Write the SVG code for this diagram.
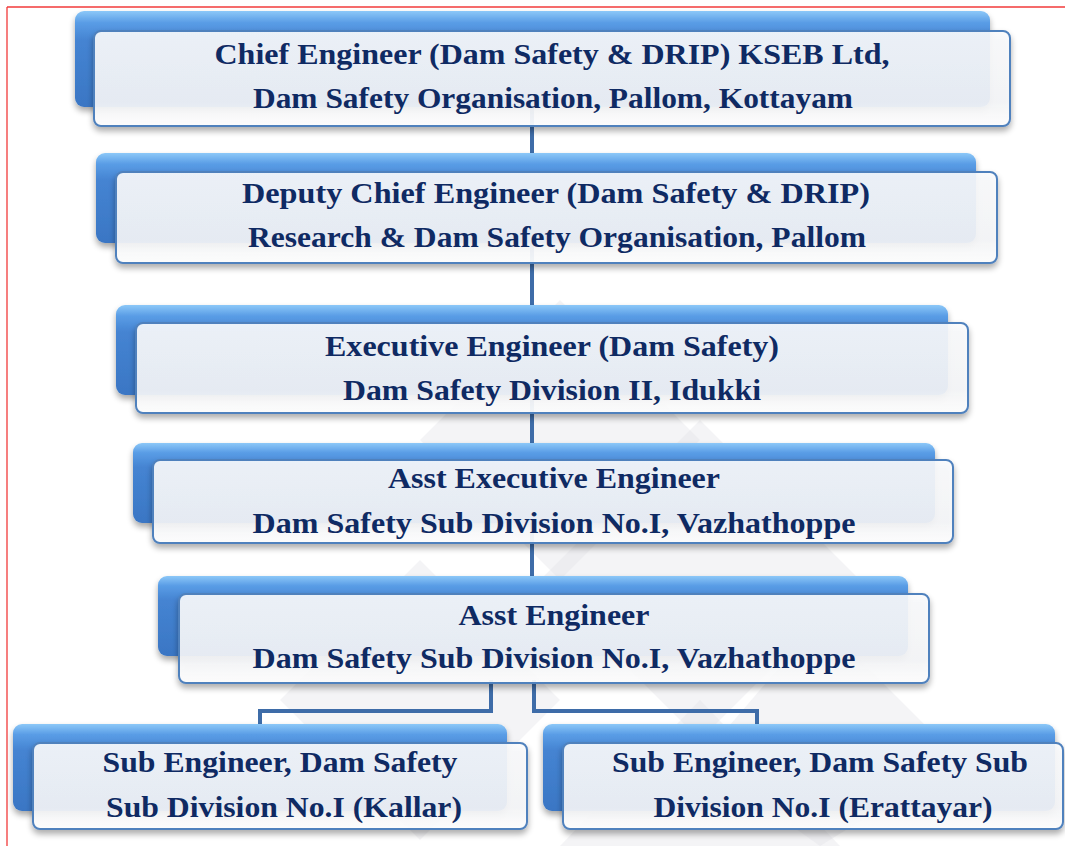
<svg xmlns="http://www.w3.org/2000/svg" width="1065" height="846" viewBox="0 0 1065 846">
  <style>
    .back { fill: url(#blueFace); filter: url(#shadow); }
    .front { fill: url(#glass); stroke: #4f81bd; stroke-width: 2; filter: url(#shadow); }
    .label { font-family: "Liberation Serif", "Times New Roman", serif; font-weight: bold; font-size: 29px; fill: #0f2a63; text-anchor: middle; }
    .link { fill: none; stroke: #3e6ca8; stroke-width: 4; }
    .frame { stroke: #f23a3a; stroke-width: 1.3; }
    .mark { fill: #dfe0e6; opacity: 0.35; }
  </style>
  <defs>
    <linearGradient id="blueFace" x1="0" y1="0" x2="0" y2="1">
      <stop offset="0" stop-color="#8cc8f8"/>
      <stop offset="0.12" stop-color="#5a9de6"/>
      <stop offset="0.3" stop-color="#4584d2"/>
      <stop offset="1" stop-color="#3a76c4"/>
    </linearGradient>
    <linearGradient id="glass" x1="0" y1="0" x2="0" y2="1">
      <stop offset="0" stop-color="#fbfcfe" stop-opacity="0.9"/>
      <stop offset="0.75" stop-color="#f6f7f9" stop-opacity="0.9"/>
      <stop offset="1" stop-color="#ffffff" stop-opacity="0.92"/>
    </linearGradient>
    <filter id="shadow" x="-5%" y="-20%" width="110%" height="150%">
      <feGaussianBlur in="SourceAlpha" stdDeviation="3"/>
      <feOffset dx="0" dy="4" result="b"/>
      <feComponentTransfer><feFuncA type="linear" slope="0.35"/></feComponentTransfer>
      <feMerge><feMergeNode/><feMergeNode in="SourceGraphic"/></feMerge>
    </filter>
  </defs>

  <rect width="1065" height="846" fill="#ffffff"/>

  <!-- faint diamond lattice behind the chart -->
  <g id="watermark">
    <polygon class="mark" points="560,300 700,440 560,580 420,440"/>
    <polygon class="mark" points="700,420 860,580 700,740 540,580"/>
    <polygon class="mark" points="420,560 560,700 420,840 280,700"/>
    <polygon class="mark" points="700,700 840,846 560,846"/>
    <polygon class="mark" points="820,620 960,760 820,846 700,760"/>
  </g>

  <!-- page frame -->
  <line class="frame" x1="7" y1="7" x2="1065" y2="7"/>
  <line class="frame" x1="7" y1="7" x2="7" y2="846"/>

  <g id="connectors">
    <line class="link" x1="532" y1="100" x2="532" y2="600"/>
    <polyline class="link" points="491,680 491,711 260,711 260,730"/>
    <polyline class="link" points="534,680 534,711 757,711 757,730"/>
  </g>

  <g id="chief-engineer">
    <rect class="back" x="75" y="11" width="915" height="96" rx="9"/>
    <rect class="front" x="94" y="31" width="916" height="95" rx="7"/>
    <text class="label" x="552" y="64" textLength="675" lengthAdjust="spacingAndGlyphs">Chief Engineer (Dam Safety &amp; DRIP) KSEB Ltd,</text>
    <text class="label" x="553" y="108" textLength="600" lengthAdjust="spacingAndGlyphs">Dam Safety Organisation, Pallom, Kottayam</text>
  </g>

  <g id="deputy-chief-engineer">
    <rect class="back" x="96" y="153" width="880" height="90" rx="9"/>
    <rect class="front" x="116" y="172" width="881" height="91" rx="7"/>
    <text class="label" x="556" y="203" textLength="628" lengthAdjust="spacingAndGlyphs">Deputy Chief Engineer (Dam Safety &amp; DRIP)</text>
    <text class="label" x="557" y="247" textLength="618" lengthAdjust="spacingAndGlyphs">Research &amp; Dam Safety Organisation, Pallom</text>
  </g>

  <g id="executive-engineer">
    <rect class="back" x="116" y="305" width="832" height="90" rx="9"/>
    <rect class="front" x="136" y="323" width="832" height="90" rx="7"/>
    <text class="label" x="552" y="356" textLength="454" lengthAdjust="spacingAndGlyphs">Executive Engineer (Dam Safety)</text>
    <text class="label" x="552" y="400" textLength="418" lengthAdjust="spacingAndGlyphs">Dam Safety Division II, Idukki</text>
  </g>

  <g id="asst-executive-engineer">
    <rect class="back" x="133" y="443" width="802" height="80" rx="9"/>
    <rect class="front" x="153" y="460" width="800" height="83" rx="7"/>
    <text class="label" x="554" y="488" textLength="332" lengthAdjust="spacingAndGlyphs">Asst Executive Engineer</text>
    <text class="label" x="554" y="533" textLength="603" lengthAdjust="spacingAndGlyphs">Dam Safety Sub Division No.I, Vazhathoppe</text>
  </g>

  <g id="asst-engineer">
    <rect class="back" x="158" y="576" width="750" height="80" rx="9"/>
    <rect class="front" x="179" y="594" width="750" height="89" rx="7"/>
    <text class="label" x="554" y="625" textLength="191" lengthAdjust="spacingAndGlyphs">Asst Engineer</text>
    <text class="label" x="554" y="668" textLength="603" lengthAdjust="spacingAndGlyphs">Dam Safety Sub Division No.I, Vazhathoppe</text>
  </g>

  <g id="sub-engineer-kallar">
    <rect class="back" x="13" y="724" width="494" height="87" rx="9"/>
    <rect class="front" x="33" y="743" width="494" height="86" rx="7"/>
    <text class="label" x="280" y="772" textLength="355" lengthAdjust="spacingAndGlyphs">Sub Engineer, Dam Safety</text>
    <text class="label" x="284" y="817" textLength="356" lengthAdjust="spacingAndGlyphs">Sub Division No.I (Kallar)</text>
  </g>

  <g id="sub-engineer-erattayar">
    <rect class="back" x="543" y="724" width="512" height="87" rx="9"/>
    <rect class="front" x="563" y="743" width="500" height="86" rx="7"/>
    <text class="label" x="820" y="772" textLength="416" lengthAdjust="spacingAndGlyphs">Sub Engineer, Dam Safety Sub</text>
    <text class="label" x="823" y="817" textLength="339" lengthAdjust="spacingAndGlyphs">Division No.I (Erattayar)</text>
  </g>
</svg>
